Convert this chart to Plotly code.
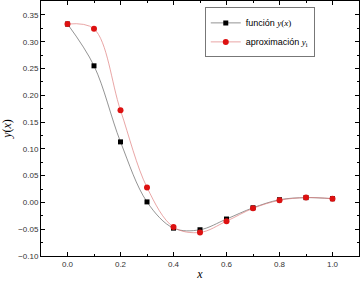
import plotly.graph_objects as go

x_vals = [0.0, 0.1, 0.2, 0.3, 0.4, 0.5, 0.6, 0.7, 0.8, 0.9, 1.0]
y_func = [0.333, 0.255, 0.113, 0.001, -0.048, -0.051, -0.031, -0.010, 0.005, 0.009, 0.007]
y_aprox = [0.333, 0.324, 0.172, 0.028, -0.046, -0.056, -0.035, -0.011, 0.004, 0.009, 0.007]

serif = "Liberation Serif, Times New Roman, serif"

fig = go.Figure()
fig.add_trace(go.Scatter(
    x=x_vals, y=y_func, mode="lines+markers",
    line=dict(color="#666666", width=0.7, shape="spline", smoothing=1),
    marker=dict(symbol="square", size=5, color="black"),
    name="función <span style='font-family:Liberation Serif'><i>y</i>(<i>x</i>)</span>",
))
fig.add_trace(go.Scatter(
    x=x_vals, y=y_aprox, mode="lines+markers",
    line=dict(color="#e08080", width=0.7, shape="spline", smoothing=1),
    marker=dict(symbol="circle", size=6, color="#dd1111"),
    name="aproximación <span style='font-family:Liberation Serif'><i>y</i><sub>i</sub></span>",
))

axis_common = dict(
    showline=True, linecolor="black", linewidth=1, mirror="ticks",
    ticks="inside", ticklen=4, tickcolor="black", showgrid=False, zeroline=False,
    tickfont=dict(family="Liberation Sans, Arial, sans-serif", size=8, color="#333333"),
)

fig.update_layout(
    width=362, height=284,
    margin=dict(l=41, r=3, t=1, b=28),
    plot_bgcolor="white", paper_bgcolor="white",
    xaxis=dict(range=[-0.1, 1.1], dtick=0.2, tick0=0, tickformat=".1f",
               minor=dict(ticks="inside", ticklen=2, dtick=0.1, tick0=0, tickcolor="black"),
               title=dict(text="<i>x</i>", font=dict(family=serif, size=12, color="black"), standoff=2),
               **axis_common),
    yaxis=dict(range=[-0.1, 0.376], dtick=0.05, tick0=0, tickformat=".2f",
               minor=dict(ticks="inside", ticklen=2, dtick=0.025, tick0=0, tickcolor="black"),
               title=dict(text="<i>y</i>(<i>x</i>)", font=dict(family=serif, size=12, color="black"), standoff=6),
               **axis_common),
    legend=dict(x=0.515, y=0.975, xanchor="left", yanchor="top",
                bgcolor="white", bordercolor="#777777", borderwidth=1,
                font=dict(family="Liberation Sans, Arial, sans-serif", size=9, color="black"),
                tracegroupgap=0, itemwidth=30),
    showlegend=True,
)

fig.write_html("out.html", config={"displayModeBar": False},
               post_script="document.body.style.margin='0';")
